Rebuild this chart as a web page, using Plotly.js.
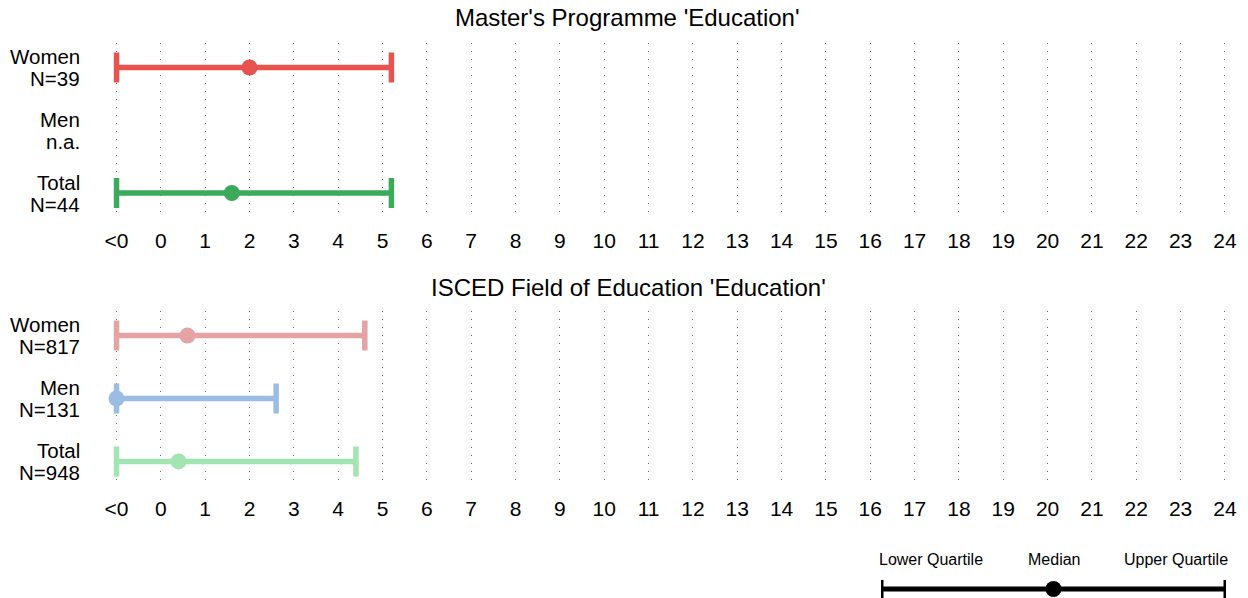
<!DOCTYPE html>
<html>
<head>
<meta charset="utf-8">
<script src="https://cdn.plot.ly/plotly-3.0.1.min.js"></script>
<style>html,body{margin:0;padding:0;background:#fff;}#chart{width:1248px;height:598px;}</style>
</head>
<body>
<div id="chart"></div>
<script>
// ---- data ----
const groups = ['Women', 'Men', 'Total'];
const tickValues = [-1,0,1,2,3,4,5,6,7,8,9,10,11,12,13,14,15,16,17,18,19,20,21,22,23,24];
const tickLabels = ['<0','0','1','2','3','4','5','6','7','8','9','10','11','12','13','14','15','16','17','18','19','20','21','22','23','24'];

const topTitle = "Master's Programme 'Education'";
const topCounts = ['N=39', 'n.a.', 'N=44'];
const topLower  = [-1, null, -1];
const topMedian = [2.0, null, 1.6];
const topUpper  = [5.2, null, 5.2];
const topColors = ['#E8524F', '#4F86D9', '#3BAA5A'];

const botTitle = "ISCED Field of Education 'Education'";
const botCounts = ['N=817', 'N=131', 'N=948'];
const botLower  = [-1, -1, -1];
const botMedian = [0.6, -1, 0.4];
const botUpper  = [4.6, 2.6, 4.4];
const botColors = ['#E5A3A3', '#9BBDE4', '#A3E4B3'];

const legendLabels = ['Lower Quartile', 'Median', 'Upper Quartile'];
const legendValues = [0, 0.5, 1];

// ---- build ----
const FONT = 'Liberation Sans, Arial, Helvetica, sans-serif';
const traces = [];
function addPanel(lower, median, upper, colors, xa, ya) {
  for (let i = 0; i < groups.length; i++) {
    if (median[i] === null) continue;
    traces.push({
      type: 'scatter', mode: 'markers', xaxis: xa, yaxis: ya,
      x: [median[i]], y: [i], cliponaxis: false, hoverinfo: 'skip',
      marker: {color: colors[i], size: 16},
      error_x: {type: 'data', symmetric: false,
        array: [upper[i] - median[i]], arrayminus: [median[i] - lower[i]],
        color: colors[i], thickness: 5.5, width: 15}
    });
  }
}
addPanel(topLower, topMedian, topUpper, topColors, 'x', 'y');
addPanel(botLower, botMedian, botUpper, botColors, 'x2', 'y2');

traces.push({
  type: 'scatter', mode: 'markers', xaxis: 'x3', yaxis: 'y3',
  x: [legendValues[1]], y: [0], cliponaxis: false, hoverinfo: 'skip',
  marker: {color: '#000', size: 16},
  error_x: {type: 'data', symmetric: false,
    array: [legendValues[2] - legendValues[1]], arrayminus: [legendValues[1] - legendValues[0]],
    color: '#000', thickness: 5, width: 14}
});

const xdom = [105/1248, 1236/1248];
const xbase = {
  domain: xdom, range: [-1.26, 24.25], tickmode: 'array',
  tickvals: tickValues, ticktext: tickLabels, ticks: '', ticklabelstandoff: 8,
  tickfont: {size: 21, color: '#000', family: FONT},
  showgrid: true, gridcolor: '#707070', gridwidth: 1, griddash: '1px,7px',
  zeroline: false, showline: false, fixedrange: true
};
const ybase = {range: [2.39, -0.39], showgrid: false, zeroline: false,
  showline: false, showticklabels: false, fixedrange: true};

const annotations = [];
function addLabels(counts, yref) {
  for (let i = 0; i < groups.length; i++) {
    annotations.push({xref: 'paper', yref: yref, x: 80/1248, y: i, xanchor: 'right', yanchor: 'middle',
      yshift: 11, xshift: 2, text: groups[i], showarrow: false, font: {size: 20.5, color: '#000', family: FONT}});
    annotations.push({xref: 'paper', yref: yref, x: 80/1248, y: i, xanchor: 'right', yanchor: 'middle',
      yshift: -11, xshift: 2, text: counts[i], showarrow: false, font: {size: 20.5, color: '#000', family: FONT}});
  }
}
addLabels(topCounts, 'y');
addLabels(botCounts, 'y2');
annotations.push({xref: 'paper', yref: 'paper', x: 0.503, y: 1 - 18/598, xanchor: 'center', yanchor: 'middle',
  text: topTitle, showarrow: false, font: {size: 24, color: '#000', family: FONT}});
annotations.push({xref: 'paper', yref: 'paper', x: 0.504, y: 1 - 287/598, xanchor: 'center', yanchor: 'middle',
  text: botTitle, showarrow: false, font: {size: 24, color: '#000', family: FONT}});
const anch = ['left', 'center', 'right'];
const lshift = [-4, 0, 4];
for (let i = 0; i < 3; i++) {
  annotations.push({xref: 'x3', yref: 'paper', x: legendValues[i], y: 1 - 559/598, xanchor: anch[i], yanchor: 'middle',
    xshift: lshift[i], text: legendLabels[i], showarrow: false, font: {size: 16, color: '#000', family: FONT}});
}

const layout = {
  width: 1248, height: 598, margin: {l: 0, r: 0, t: 0, b: 0},
  paper_bgcolor: '#fff', plot_bgcolor: '#fff', showlegend: false,
  font: {family: FONT, color: '#000'},
  xaxis: Object.assign({}, xbase, {anchor: 'y'}),
  yaxis: Object.assign({}, ybase, {domain: [1 - 217.5/598, 1 - 43/598], anchor: 'x'}),
  xaxis2: Object.assign({}, xbase, {anchor: 'y2'}),
  yaxis2: Object.assign({}, ybase, {domain: [1 - 486/598, 1 - 311/598], anchor: 'x2'}),
  xaxis3: {domain: [881/1248, 1226/1248], range: [0, 1], visible: false, fixedrange: true, anchor: 'y3'},
  yaxis3: {domain: [0, 18/598], range: [-1, 1], visible: false, fixedrange: true, anchor: 'x3'},
  annotations: annotations
};

Plotly.newPlot('chart', traces, layout, {displayModeBar: false, staticPlot: true});
</script>
</body>
</html>
